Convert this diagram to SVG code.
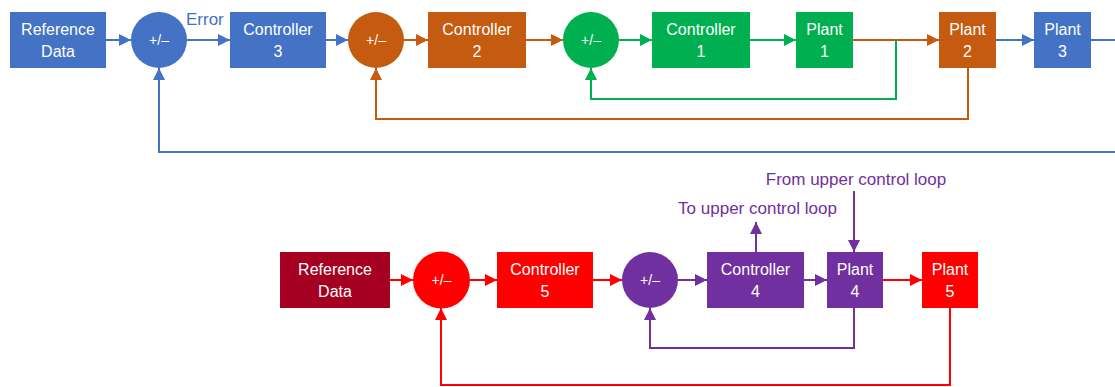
<svg xmlns="http://www.w3.org/2000/svg" width="1115" height="387" viewBox="0 0 1115 387">
  <style>
    .lbl { font-family: "Liberation Sans", Arial, sans-serif; font-size: 16px; fill: #fff; text-anchor: middle; }
    .sum { font-family: "Liberation Sans", Arial, sans-serif; font-size: 14px; fill: #fff; text-anchor: middle; }
    .note { font-family: "Liberation Sans", Arial, sans-serif; font-size: 17px; }
    .ln { fill: none; stroke-width: 2; }
    .blue { fill: #4472C4; } .s-blue { stroke: #4472C4; }
    .orange { fill: #C55A11; } .s-orange { stroke: #C55A11; }
    .green { fill: #00B050; } .s-green { stroke: #00B050; }
    .red { fill: #FF0000; } .s-red { stroke: #FF0000; }
    .purple { fill: #7030A0; } .s-purple { stroke: #7030A0; }
    .dred { fill: #A50021; }
  </style>
  <defs>
    <marker id="a-blue" markerUnits="userSpaceOnUse" markerWidth="12" markerHeight="12" refX="12" refY="6" orient="auto"><path d="M0,0 L12,6 L0,12 Z" fill="#4472C4"/></marker>
    <marker id="a-orange" markerUnits="userSpaceOnUse" markerWidth="12" markerHeight="12" refX="12" refY="6" orient="auto"><path d="M0,0 L12,6 L0,12 Z" fill="#C55A11"/></marker>
    <marker id="a-green" markerUnits="userSpaceOnUse" markerWidth="12" markerHeight="12" refX="12" refY="6" orient="auto"><path d="M0,0 L12,6 L0,12 Z" fill="#00B050"/></marker>
    <marker id="a-red" markerUnits="userSpaceOnUse" markerWidth="12" markerHeight="12" refX="12" refY="6" orient="auto"><path d="M0,0 L12,6 L0,12 Z" fill="#FF0000"/></marker>
    <marker id="a-purple" markerUnits="userSpaceOnUse" markerWidth="12" markerHeight="12" refX="12" refY="6" orient="auto"><path d="M0,0 L12,6 L0,12 Z" fill="#7030A0"/></marker>
  </defs>

  <!-- connectors -->
  <g id="connectors">
    <!-- upper loop, forward path -->
    <path class="ln s-blue" d="M106,40 H131" marker-end="url(#a-blue)"/>
    <path class="ln s-blue" d="M187,40 H230" marker-end="url(#a-blue)"/>
    <path class="ln s-blue" d="M326,40 H348" marker-end="url(#a-blue)"/>
    <path class="ln s-orange" d="M404,40 H428" marker-end="url(#a-orange)"/>
    <path class="ln s-orange" d="M526,40 H563" marker-end="url(#a-orange)"/>
    <path class="ln s-green" d="M619,40 H652" marker-end="url(#a-green)"/>
    <path class="ln s-green" d="M750,40 H796" marker-end="url(#a-green)"/>
    <path class="ln s-orange" d="M853,40 H939" marker-end="url(#a-orange)"/>
    <path class="ln s-blue" d="M996,40 H1034" marker-end="url(#a-blue)"/>
    <path class="ln s-blue" d="M1091,40 H1115"/>
    <!-- upper loop, feedback paths -->
    <path class="ln s-green" d="M896,40 V99 H591 V68" marker-end="url(#a-green)"/>
    <path class="ln s-orange" d="M968,68 V119 H376 V68" marker-end="url(#a-orange)"/>
    <path class="ln s-blue" d="M1115,152 H159 V68" marker-end="url(#a-blue)"/>
    <!-- lower loop, forward path -->
    <path class="ln s-red" d="M390,280 H413" marker-end="url(#a-red)"/>
    <path class="ln s-red" d="M470,280 H497" marker-end="url(#a-red)"/>
    <path class="ln s-red" d="M593,280 H622" marker-end="url(#a-red)"/>
    <path class="ln s-purple" d="M678,280 H707" marker-end="url(#a-purple)"/>
    <path class="ln s-purple" d="M804,280 H827" marker-end="url(#a-purple)"/>
    <path class="ln s-red" d="M883,280 H922" marker-end="url(#a-red)"/>
    <!-- lower loop, feedback paths -->
    <path class="ln s-purple" d="M854,308 V348 H650 V308" marker-end="url(#a-purple)"/>
    <path class="ln s-red" d="M950,308 V385 H441 V308" marker-end="url(#a-red)"/>
    <!-- links to the upper loop -->
    <path class="ln s-purple" d="M756,252 V222" marker-end="url(#a-purple)"/>
    <path class="ln s-purple" d="M854,191 V252" marker-end="url(#a-purple)"/>
  </g>

  <!-- upper loop nodes -->
  <g id="ref1"><rect class="blue" x="10" y="12" width="96" height="56"/><text class="lbl" x="58" y="34.5">Reference</text><text class="lbl" x="58" y="56.5">Data</text></g>
  <g id="sum1"><circle class="blue" cx="159" cy="40" r="28"/><text class="sum" x="159" y="45">+/–</text></g>
  <g id="error-label"><text class="note blue" x="186" y="25">Error</text></g>
  <g id="ctrl3"><rect class="blue" x="230" y="12" width="96" height="56"/><text class="lbl" x="278" y="34.5">Controller</text><text class="lbl" x="278" y="56.5">3</text></g>
  <g id="sum2"><circle class="orange" cx="376" cy="40" r="28"/><text class="sum" x="376" y="45">+/–</text></g>
  <g id="ctrl2"><rect class="orange" x="428" y="12" width="98" height="56"/><text class="lbl" x="477" y="34.5">Controller</text><text class="lbl" x="477" y="56.5">2</text></g>
  <g id="sum3"><circle class="green" cx="591" cy="40" r="28"/><text class="sum" x="591" y="45">+/–</text></g>
  <g id="ctrl1"><rect class="green" x="652" y="12" width="98" height="56"/><text class="lbl" x="701" y="34.5">Controller</text><text class="lbl" x="701" y="56.5">1</text></g>
  <g id="plant1"><rect class="green" x="796" y="12" width="57" height="56"/><text class="lbl" x="824.5" y="34.5">Plant</text><text class="lbl" x="824.5" y="56.5">1</text></g>
  <g id="plant2"><rect class="orange" x="939" y="12" width="57" height="56"/><text class="lbl" x="967.5" y="34.5">Plant</text><text class="lbl" x="967.5" y="56.5">2</text></g>
  <g id="plant3"><rect class="blue" x="1034" y="12" width="57" height="56"/><text class="lbl" x="1062.5" y="34.5">Plant</text><text class="lbl" x="1062.5" y="56.5">3</text></g>

  <!-- lower loop nodes -->
  <g id="ref2"><rect class="dred" x="280" y="252" width="110" height="56"/><text class="lbl" x="335" y="274.5">Reference</text><text class="lbl" x="335" y="296.5">Data</text></g>
  <g id="sum5"><circle class="red" cx="441.5" cy="280" r="28.5"/><text class="sum" x="441.5" y="285">+/–</text></g>
  <g id="ctrl5"><rect class="red" x="497" y="252" width="96" height="56"/><text class="lbl" x="545" y="274.5">Controller</text><text class="lbl" x="545" y="296.5">5</text></g>
  <g id="sum4"><circle class="purple" cx="650" cy="280" r="28"/><text class="sum" x="650" y="285">+/–</text></g>
  <g id="ctrl4"><rect class="purple" x="707" y="252" width="97" height="56"/><text class="lbl" x="755.5" y="274.5">Controller</text><text class="lbl" x="755.5" y="296.5">4</text></g>
  <g id="plant4"><rect class="purple" x="827" y="252" width="56" height="56"/><text class="lbl" x="855" y="274.5">Plant</text><text class="lbl" x="855" y="296.5">4</text></g>
  <g id="plant5"><rect class="red" x="922" y="252" width="56" height="56"/><text class="lbl" x="950" y="274.5">Plant</text><text class="lbl" x="950" y="296.5">5</text></g>

  <g id="to-upper"><text class="note purple" x="757.5" y="214" text-anchor="middle">To upper control loop</text></g>
  <g id="from-upper"><text class="note purple" x="856" y="185" text-anchor="middle">From upper control loop</text></g>
</svg>
